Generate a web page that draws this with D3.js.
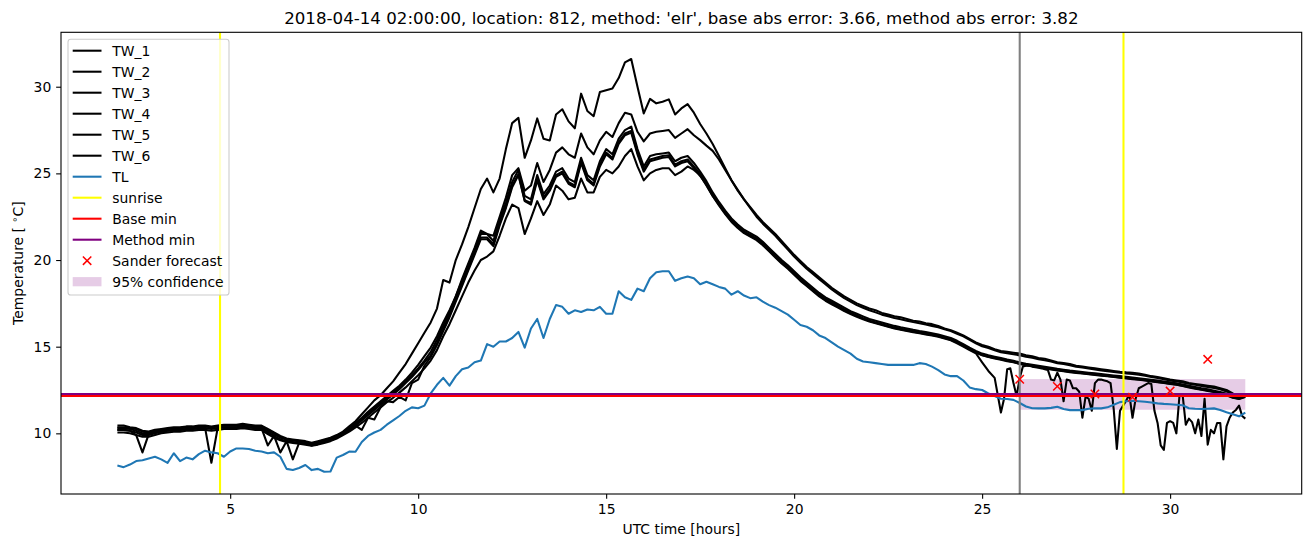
<!DOCTYPE html>
<html><head><meta charset="utf-8">
<script src="https://cdn.jsdelivr.net/npm/d3@7"></script>
<style>
body{margin:0;background:#fff;}
svg{display:block;}
text{font-family:"DejaVu Sans",sans-serif;fill:#000;}
</style>
</head><body>
<svg id="c" width="1310" height="547"></svg>
<script>
// ---------------- DATA ----------------
const titleText = "2018-04-14 02:00:00, location: 812, method: 'elr', base abs error: 3.66, method abs error: 3.82";
const xLabel = "UTC time [hours]";
const xTicks = [5, 10, 15, 20, 25, 30];
const yTicks = [10, 15, 20, 25, 30];

// sample grid: every 10 minutes from 02:00 (2 h) to 32 h
const startHour = 2, stepHour = 1/6;

const TW_1 = [
10.05,10.05,10.0,9.9,9.8,9.8,
9.9,10.0,10.05,10.1,10.1,10.15,
10.15,10.2,10.2,10.15,10.2,10.25,
10.25,10.25,10.3,10.25,10.2,10.2,
9.95,9.75,9.6,9.5,9.45,9.4,
9.35,9.28,9.35,9.45,9.55,9.7,
9.9,10.1,10.35,10.6,10.9,11.2,
11.5,11.8,12.05,12.35,12.65,13.0,
13.35,13.75,14.2,14.8,15.6,16.3,
17.1,17.9,18.7,19.4,20.0,20.2,
20.5,21.4,22.4,23.2,23.0,21.5,
22.4,23.4,22.6,23.2,24.3,24.0,
23.5,23.6,24.7,23.9,23.9,24.8,
25.2,25.0,25.4,26.0,26.4,25.4,
24.6,25.0,25.2,25.3,25.3,24.9,
25.1,25.4,25.2,24.9,24.3,23.7,
23.2,22.7,22.25,21.9,21.6,21.4,
21.2,20.9,20.55,20.2,19.85,19.55,
19.2,18.85,18.55,18.25,17.95,17.7,
17.5,17.3,17.1,16.92,16.77,16.62,
16.48,16.38,16.28,16.18,16.08,16.0,
15.93,15.86,15.8,15.74,15.67,15.6,
15.5,15.4,15.24,15.05,14.85,14.66,
14.5,14.4,14.32,14.24,14.16,14.1,
14.0,13.93,13.87,13.81,13.75,13.69,
13.63,13.58,13.53,13.49,13.45,13.41,
13.37,13.33,13.29,13.25,13.21,13.17,
13.13,13.09,13.05,13.0,12.95,12.9,
12.85,12.8,12.73,12.65,12.58,12.51,
12.45,12.38,12.3,12.2,12.05,11.98,
12.1];

const TW_2 = [
10.3,10.3,10.25,10.15,10.0,10.0,
10.1,10.2,10.25,10.3,10.3,10.35,
10.35,10.4,10.4,10.35,10.4,10.45,
10.45,10.45,10.5,10.45,10.4,10.4,
10.15,9.95,9.75,9.65,9.6,9.55,
9.5,9.4,9.5,9.6,9.7,9.85,
10.05,10.3,10.55,10.85,11.15,11.45,
11.75,12.05,12.35,12.65,13.0,13.35,
13.75,14.2,14.7,15.4,16.2,17.0,
17.9,18.8,19.7,20.6,21.5,21.5,
21.1,22.3,23.3,24.5,25.2,23.7,
23.5,24.9,23.8,24.3,25.1,25.3,
24.7,24.5,25.9,24.9,24.6,25.7,
26.4,26.1,27.0,27.5,27.7,26.4,
25.4,26.0,26.1,26.15,26.2,25.7,
25.9,26.0,25.6,25.1,24.55,23.9,
23.35,22.85,22.4,22.05,21.75,21.55,
21.35,21.05,20.7,20.35,20.0,19.7,
19.35,19.0,18.7,18.4,18.1,17.85,
17.65,17.45,17.25,17.05,16.9,16.75,
16.6,16.5,16.4,16.3,16.2,16.12,
16.05,15.97,15.9,15.84,15.77,15.7,
15.6,15.5,15.34,15.14,14.94,14.76,
14.6,14.5,14.42,14.34,14.26,14.19,
14.09,14.02,13.96,13.9,13.84,13.78,
13.72,13.67,13.62,13.58,13.54,13.5,
13.46,13.42,13.38,13.34,13.3,13.26,
13.22,13.18,13.14,13.09,13.04,12.99,
12.94,12.89,12.82,12.74,12.67,12.6,
12.54,12.46,12.38,12.28,12.12,12.04,
12.18];

const TW_3 = [
10.2,10.2,10.15,10.05,9.9,9.9,
10.0,10.1,10.15,10.2,10.2,10.25,
10.25,10.3,10.3,10.25,10.3,10.35,
10.35,10.35,10.4,10.35,10.3,10.3,
10.05,9.85,9.65,9.55,9.5,9.45,
9.4,9.32,9.4,9.5,9.6,9.75,
9.95,10.2,10.45,10.75,11.05,11.35,
11.65,11.95,12.25,12.55,12.9,13.25,
13.65,14.1,14.5,15.2,16.0,16.8,
17.7,18.6,19.5,20.4,21.3,21.3,
20.9,22.1,23.1,24.3,24.95,23.45,
23.3,24.7,23.6,24.1,24.9,25.1,
24.5,24.3,25.7,24.7,24.4,25.5,
26.2,25.9,26.8,27.3,27.45,26.2,
25.2,25.8,25.9,26.0,26.05,25.5,
25.7,25.8,25.4,24.95,24.45,23.8,
23.25,22.75,22.3,21.95,21.65,21.45,
21.25,20.95,20.6,20.25,19.9,19.6,
19.25,18.9,18.6,18.3,18.0,17.75,
17.55,17.35,17.15,16.96,16.8,16.65,
16.5,16.4,16.3,16.2,16.1,16.03,
15.96,15.89,15.83,15.77,15.7,15.63,
15.53,15.43,15.27,15.07,14.87,14.69,
14.52,14.42,14.35,14.27,14.19,14.12,
14.02,13.95,13.89,13.83,13.77,13.71,
13.65,13.6,13.55,13.51,13.47,13.43,
13.39,13.35,13.31,13.27,13.23,13.19,
13.15,13.11,13.07,13.02,12.97,12.92,
12.87,12.82,12.75,12.67,12.6,12.53,
12.47,12.4,12.32,12.22,12.07,12.0,
12.12];

const TW_4 = [
10.35,10.35,10.3,10.25,10.1,10.05,
10.15,10.2,10.25,10.3,10.3,10.35,
10.35,10.4,10.4,10.35,10.4,10.45,
10.45,10.45,10.5,10.45,10.4,10.4,
10.2,10.0,9.8,9.65,9.6,9.55,
9.5,9.4,9.5,9.6,9.7,9.85,
10.05,10.3,10.6,10.9,11.25,11.55,
11.85,12.15,12.45,12.75,13.1,13.5,
13.95,14.45,14.95,15.6,16.4,17.1,
17.9,18.9,19.8,20.7,21.7,21.5,
21.4,22.5,23.6,24.9,25.3,24.0,
24.3,25.6,24.5,25.2,26.2,26.5,
26.1,25.9,27.3,26.5,26.1,26.9,
27.4,27.1,27.9,28.5,28.4,27.4,
26.85,27.3,27.4,27.45,27.5,27.05,
27.3,27.55,27.2,26.92,26.6,26.3,
25.8,25.2,24.6,24.05,23.5,23.0,
22.5,22.1,21.75,21.4,21.0,20.6,
20.2,19.85,19.5,19.2,18.9,18.6,
18.3,18.05,17.8,17.6,17.4,17.25,
17.1,16.98,16.85,16.75,16.65,16.58,
16.5,16.42,16.35,16.28,16.2,16.12,
16.0,15.9,15.75,15.6,15.4,15.2,
15.02,14.92,14.8,14.68,14.62,14.56,
14.5,14.42,14.36,14.28,14.22,14.15,
14.05,14.0,13.93,13.85,13.8,13.74,
13.68,13.63,13.58,13.54,13.5,13.46,
13.43,13.38,13.32,13.25,13.19,13.12,
13.05,13.0,12.94,12.86,12.8,12.74,
12.68,12.62,12.55,12.42,12.25,12.1,
12.2];

const TW_5 = [
10.45,10.45,10.35,10.3,10.15,10.1,
10.2,10.25,10.3,10.35,10.35,10.4,
10.4,10.45,10.45,10.4,10.45,10.5,
10.5,10.5,10.55,10.5,10.45,10.45,
10.25,10.05,9.85,9.7,9.65,9.6,
9.55,9.45,9.55,9.65,9.75,9.9,
10.1,10.4,10.7,11.1,11.5,11.9,
12.2,12.6,13.0,13.5,14.0,14.6,
15.2,15.8,16.4,17.2,18.85,18.7,
20.0,20.9,21.9,23.0,24.1,24.7,
23.9,24.7,26.4,27.9,28.2,25.9,
26.9,28.17,27.0,26.9,28.4,28.7,
28.0,27.6,29.6,28.6,28.3,29.7,
29.8,29.9,30.5,31.4,31.6,30.0,
28.46,29.3,29.04,29.13,29.27,28.4,
28.75,29.0,28.5,27.85,27.3,26.7,
26.0,25.3,24.6,24.0,23.5,23.05,
22.6,22.2,21.85,21.5,21.1,20.7,
20.3,19.95,19.6,19.3,19.0,18.7,
18.4,18.15,17.9,17.7,17.5,17.35,
17.2,17.1,16.95,16.85,16.75,16.7,
16.6,16.5,16.45,16.35,16.3,16.2,
16.05,15.95,15.8,15.65,15.45,15.25,
15.1,15.0,14.85,14.75,14.7,14.65,
14.6,14.5,14.45,14.35,14.3,14.2,
14.1,14.05,14.0,13.9,13.85,13.8,
13.75,13.7,13.65,13.6,13.55,13.52,
13.5,13.45,13.38,13.3,13.25,13.18,
13.1,13.05,13.0,12.9,12.85,12.8,
12.75,12.7,12.6,12.5,12.3,12.15,
12.2];

// TW_6: 10-minute samples until 25h20, then 5-minute samples from 25h30 to 32h
const TW_6_main = [
10.2,10.2,10.15,9.9,8.9,9.95,
10.05,10.1,10.15,10.2,10.2,10.25,
10.25,10.3,10.3,8.3,10.3,10.35,
10.35,10.35,10.4,10.35,10.3,10.3,
9.3,9.85,8.9,9.55,8.5,9.45,
9.4,9.3,9.4,9.5,9.6,9.75,
9.95,10.2,10.45,10.2,10.9,10.8,
11.5,11.85,11.8,12.1,11.9,12.9,
13.1,13.9,14.4,15.1,15.9,16.7,
17.6,18.5,19.4,20.3,21.2,21.2,
20.8,22.0,23.0,24.2,24.9,23.4,
23.2,24.6,23.5,24.0,24.8,25.0,
24.4,24.2,25.6,24.6,24.3,25.4,
26.1,25.8,26.7,27.2,27.35,26.1,
25.1,25.7,25.8,25.9,25.95,25.4,
25.6,25.7,25.3,24.85,24.35,23.7,
23.15,22.65,22.2,21.85,21.55,21.35,
21.15,20.85,20.5,20.15,19.8,19.5,
19.15,18.8,18.5,18.2,17.9,17.65,
17.45,17.25,17.05,16.88,16.72,16.58,
16.45,16.35,16.25,16.15,16.05,15.98,
15.9,15.83,15.77,15.71,15.64,15.57,
15.47,15.37,15.2,15.0,14.8,14.62,
14.1,13.6,13.2];
const TW_6_tail = [
11.2,12.0,13.7,13.75,12.9,12.15,13.2,13.85,13.9,13.9,13.85,13.82,
13.78,13.75,13.7,13.65,13.1,13.05,13.5,13.1,11.85,13.1,13.05,12.6,
12.6,12.4,10.9,12.1,12.0,11.3,12.9,13.1,13.1,13.05,13.0,12.9,
11.4,9.1,11.3,11.6,11.9,12.25,10.9,12.0,12.6,12.7,12.8,12.9,
12.85,11.3,10.6,9.3,9.05,10.6,10.7,10.6,10.0,12.2,12.2,10.5,
10.85,10.65,10.0,10.8,9.85,12.0,9.35,10.2,10.0,10.6,10.6,8.5,
10.4,10.9,11.2,11.35,11.6,11.0,10.85];
const tailStart = 25.5, tailStep = 1/12;

const TL = [
8.15,8.05,8.2,8.4,8.45,8.55,
8.65,8.5,8.3,8.85,8.4,8.6,
8.5,8.8,9.0,8.9,8.85,8.65,
8.95,9.13,9.13,9.1,9.0,8.95,
8.85,8.9,8.65,7.95,7.88,8.0,
8.17,7.88,7.95,7.78,7.8,8.6,
8.75,8.95,8.94,9.5,9.85,10.05,
10.2,10.5,10.75,11.0,11.3,11.5,
11.45,11.6,12.3,12.8,13.2,12.75,
13.3,13.7,13.8,14.1,14.2,15.15,
15.0,15.3,15.3,15.5,15.85,14.95,
16.05,16.6,15.5,16.6,17.4,17.3,
16.9,17.1,17.0,17.15,17.1,17.3,
16.9,16.9,18.2,17.85,17.7,18.35,
18.2,18.95,19.3,19.35,19.35,18.8,
18.95,19.05,18.95,18.6,18.75,18.6,
18.45,18.35,18.0,18.2,17.95,17.8,
17.85,17.6,17.4,17.25,17.05,16.85,
16.55,16.25,16.15,15.95,15.65,15.5,
15.25,15.0,14.8,14.6,14.3,14.15,
14.1,14.05,14.0,13.95,13.95,13.95,
13.95,13.95,14.05,14.0,13.85,13.65,
13.4,13.3,13.3,13.05,12.65,12.55,
12.5,12.3,12.15,12.0,11.98,11.93,
11.75,11.55,11.45,11.44,11.44,11.47,
11.53,11.4,11.34,11.34,11.34,11.42,
11.44,11.44,11.5,11.65,11.8,11.85,
11.88,11.85,11.82,11.78,11.73,11.7,
11.68,11.65,11.62,11.45,11.42,11.4,
11.42,11.44,11.35,11.22,11.1,10.98,
11.2];

const sunriseHours = [4.73, 28.76];
const forecastStartHour = 26.0;
const baseMin = 12.15;
const methodMin = 12.27;
const sanderHours = [26, 27, 28, 29, 30, 31];
const sanderValues = [13.12, 12.71, 12.27, 12.08, 12.44, 14.27];
const confidenceHours = [26, 32];
const confidenceLow = 11.36, confidenceHigh = 13.13;

const legendLabels = ["TW_1","TW_2","TW_3","TW_4","TW_5","TW_6","TL","sunrise","Base min","Method min","Sander forecast","95% confidence"];

// ---------------- DRAW ----------------
const svg = d3.select("#c");
svg.append("rect").attr("width",1310).attr("height",547).attr("fill","#fff");
const L = 61, R = 1301.7, T = 32.3, B = 494;
const x = d3.scaleLinear().domain([0.5, 33.5]).range([L, R]);
const y = d3.scaleLinear().domain([6.5, 33.14]).range([B, T]);
const FS = 13.9, LW = 2.08;

const mainHours = TL.map((_, i) => startHour + i * stepHour);
const TW_6 = TW_6_main.concat(TW_6_tail);
const hours6 = TW_6_main.map((_, i) => startHour + i * stepHour)
  .concat(TW_6_tail.map((_, j) => tailStart + j * tailStep));

const g = svg.append("g");
const line = d3.line().x(d => x(d[0])).y(d => y(d[1]));

// confidence band (drawn below lines)
g.append("rect")
  .attr("x", x(confidenceHours[0])).attr("width", x(confidenceHours[1]) - x(confidenceHours[0]))
  .attr("y", y(confidenceHigh)).attr("height", y(confidenceLow) - y(confidenceHigh))
  .attr("fill", "purple").attr("fill-opacity", 0.2);

const twSeries = [[mainHours,TW_1],[mainHours,TW_2],[mainHours,TW_3],[mainHours,TW_4],[mainHours,TW_5],[hours6,TW_6]];
twSeries.forEach(([hs, vs]) => {
  g.append("path").attr("d", line(hs.map((h,i)=>[h, vs[i]])))
    .attr("fill","none").attr("stroke","#000").attr("stroke-width",LW).attr("stroke-linejoin","round");
});
g.append("path").attr("d", line(mainHours.map((h,i)=>[h, TL[i]])))
  .attr("fill","none").attr("stroke","#1f77b4").attr("stroke-width",LW).attr("stroke-linejoin","round");

// gray forecast start line
g.append("line").attr("x1",x(forecastStartHour)).attr("x2",x(forecastStartHour)).attr("y1",T).attr("y2",B)
  .attr("stroke","grey").attr("stroke-width",LW);
// sunrise
sunriseHours.forEach(h => g.append("line").attr("x1",x(h)).attr("x2",x(h)).attr("y1",T).attr("y2",B)
  .attr("stroke","yellow").attr("stroke-width",LW));
// base / method min
g.append("line").attr("x1",L).attr("x2",R).attr("y1",y(baseMin)).attr("y2",y(baseMin))
  .attr("stroke","red").attr("stroke-width",LW);
g.append("line").attr("x1",L).attr("x2",R).attr("y1",y(methodMin)).attr("y2",y(methodMin))
  .attr("stroke","purple").attr("stroke-width",LW);

// sander forecast crosses
function cross(sel, cx, cy) {
  const s = 4.2;
  sel.append("path").attr("d", `M${cx-s},${cy-s}L${cx+s},${cy+s}M${cx-s},${cy+s}L${cx+s},${cy-s}`)
    .attr("stroke","red").attr("stroke-width",1.5).attr("fill","none");
}
sanderHours.forEach((h,i) => cross(g, x(h), y(sanderValues[i])));

// axes
const xAxis = d3.axisBottom(x).tickValues(xTicks).tickSize(4.86).tickPadding(4.86).tickSizeOuter(0);
const yAxis = d3.axisLeft(y).tickValues(yTicks).tickSize(4.86).tickPadding(4.86).tickSizeOuter(0);
const gx = svg.append("g").attr("transform",`translate(0,${B})`).call(xAxis);
const gy = svg.append("g").attr("transform",`translate(${L},0)`).call(yAxis);
[gx, gy].forEach(a => {
  a.select(".domain").remove();
  a.selectAll("line").attr("stroke","#000").attr("stroke-width",1.1);
  a.selectAll("text").attr("font-size",FS).attr("font-family","DejaVu Sans").attr("fill","#000");
});
// spines
svg.append("rect").attr("x",L).attr("y",T).attr("width",R-L).attr("height",B-T)
  .attr("fill","none").attr("stroke","#000").attr("stroke-width",1.1);

// title and labels
svg.append("text").attr("x",(L+R)/2).attr("y",24).attr("text-anchor","middle")
  .attr("font-size",16.67).text(titleText);
svg.append("text").attr("x",(L+R)/2).attr("y",533.5).attr("text-anchor","middle")
  .attr("font-size",FS).text(xLabel);
const yl = svg.append("text").attr("transform",`translate(23,${(T+B)/2}) rotate(-90)`)
  .attr("text-anchor","middle").attr("font-size",FS);
yl.append("tspan").text("Temperature [ ");
yl.append("tspan").attr("font-size",FS*0.7).attr("dy",-5).text("∘");
yl.append("tspan").attr("dy",5).text("C]");

// legend
const lg = svg.append("g");
lg.append("rect").attr("x",68).attr("y",39.3).attr("width",161).attr("height",255.7)
  .attr("rx",2.8).attr("fill","#fff").attr("fill-opacity",0.8)
  .attr("stroke","#cccccc").attr("stroke-width",1.1);
const legendStyles = [
  {t:"line",c:"#000"},{t:"line",c:"#000"},{t:"line",c:"#000"},{t:"line",c:"#000"},{t:"line",c:"#000"},{t:"line",c:"#000"},
  {t:"line",c:"#1f77b4"},{t:"line",c:"yellow"},{t:"line",c:"red"},{t:"line",c:"purple"},
  {t:"cross"},{t:"patch"}];
legendLabels.forEach((lab, i) => {
  const cy = 50.7 + 21 * i;
  const st = legendStyles[i];
  if (st.t === "line") {
    lg.append("line").attr("x1",72.7).attr("x2",101.5).attr("y1",cy).attr("y2",cy)
      .attr("stroke",st.c).attr("stroke-width",LW);
  } else if (st.t === "cross") {
    cross(lg, 87.1, cy);
  } else {
    lg.append("rect").attr("x",72.7).attr("width",28.8).attr("y",cy-4.6).attr("height",9.2)
      .attr("fill","purple").attr("fill-opacity",0.2);
  }
  lg.append("text").attr("x",112.3).attr("y",cy+5).attr("font-size",FS).text(lab);
});
</script>
</body></html>
